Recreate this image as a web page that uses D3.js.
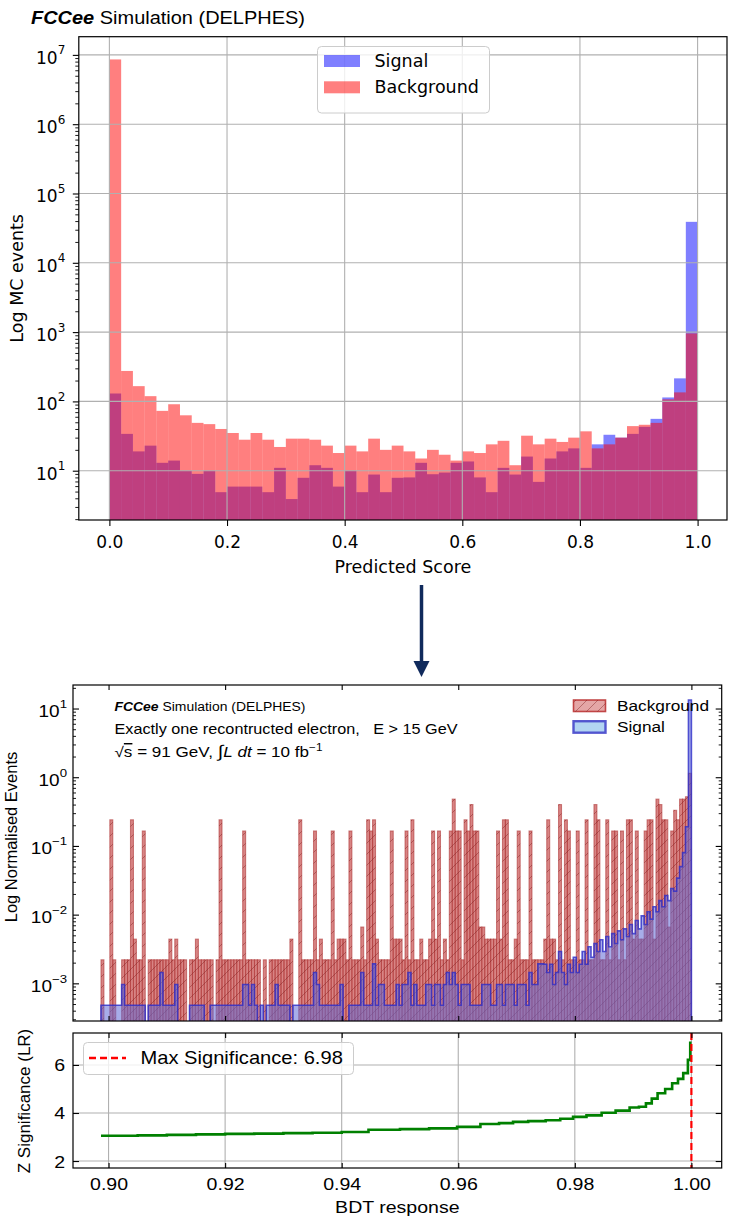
<!DOCTYPE html>
<html><head><meta charset="utf-8">
<script src="https://cdn.jsdelivr.net/npm/d3@7"></script>
<style>body{margin:0;background:#fff}svg{display:block}</style>
</head><body>
<svg id="c" width="732" height="1218"></svg>
<script>
// ================= DATA =================
// Top chart: 50 bins of predicted score, 0..1
const topBinStart = 0, topBinWidth = 0.02;
const topSignal = [130,34,19,23,13,14,10,9,10,4.9, 5.9,5.9,5.9,4.9,11,3.9,7.9,12,11,5.9,
  10,4.9,8.8,4.9,7.9,8,13,8.9,9.4,13, 13.6,8,4.9,11,8.8,16,6.9,15,19,21,
  11,24,33,30,34,43,56,114,215,39000];
const topBackground = [8.6e6,275,166,119,73,91,63,49,47,40, 35,28,35,28,22,29,29,28,23,18,
  23,19,29,20,23,19,15,20,17,14, 19,18,24,27,12,32,24,29,26,30,
  37,21,24,30,44,46,49,107,135,957];
const topXTicks = [0,0.2,0.4,0.6,0.8,1.0];
const topYTicks = [1e1,1e2,1e3,1e4,1e5,1e6,1e7];

// Bottom chart: 200 bins of BDT response between 0.8987 and 1.0
const bdtLow = 0.8987, bdtHigh = 1.0, bdtBins = 200;
const bdtBackground = [
 0.0022,0,0,0.24,0.0022,0,0,0.0022,0.0022,0.0022, 0.24,0.0044,0.0022,0.0022,0.165,0,0.0022,0.0022,0.0022,0.0022,
 0.0022,0.0022,0.0022,0.0044,0.0022,0.0044,0.0022,0.0022,0.0022,0, 0.0022,0.0022,0.0044,0.0022,0.0022,0.0022,0.0022,0.0022,0,0.0022,
 0.24,0.0022,0.0022,0.0022,0.0022,0.0022,0.0022,0.0022,0.165,0.0022, 0.0022,0.0022,0.0022,0.0022,0,0.0022,0,0.0022,0.0022,0.0022,
 0.0022,0.0022,0.0022,0.0022,0.0044,0,0,0.24,0.0022,0.0022, 0.0022,0.0022,0.165,0.0022,0.0044,0.0022,0.0022,0.0022,0.165,0.0022,
 0.0044,0.0044,0.0044,0.0022,0.165,0.0022,0.0022,0.0022,0.0066,0.0022, 0.24,0.165,0.24,0.0044,0.0022,0.0022,0.0022,0.0022,0.165,0.0044,
 0.0044,0.0044,0.0022,0.165,0.0022,0.24,0.0022,0.0022,0.0044,0.0022, 0.0022,0.0044,0.165,0.0044,0.165,0.0022,0.0044,0.0022,0.165,0.48,
 0.165,0.165,0.0022,0.24,0.165,0.40,0.165,0.165,0.0066,0.0066, 0.0044,0.0044,0.0044,0.0044,0.165,0.0044,0.24,0.24,0.0022,0.0022,
 0.0044,0.165,0.0022,0.0022,0.0022,0.165,0.0022,0.0022,0.0022,0.0022, 0.0044,0.24,0.0044,0.0044,0.0022,0.40,0.0022,0.24,0.165,0.0022,
 0.0022,0.165,0.0022,0.0022,0.24,0.0022,0.0022,0.40,0.24,0.0022, 0.0022,0.24,0.0022,0.165,0.165,0.0022,0.165,0.0022,0.24,0.24,
 0.0044,0.165,0.0044,0.0044,0.165,0.24,0.24,0.0044,0.48,0.40, 0.24,0.24,0.0066,0.165,0.33,0.24,0.48,0.48,0.52,1.14];
const bdtSignal = [
 0.00048,0.00048,0.00048,0.00048,0.00048,0.00048,0.00048,0.00096,0.00048,0.00048, 0.00048,0.00048,0.00048,0.00048,0.00048,0,0.00048,0.00048,0.00048,0.00048,
 0.00144,0.00048,0.00048,0.00048,0.00048,0.00096,0,0,0,0, 0.00048,0.00048,0.00048,0.00048,0.00048,0,0,0.00048,0.00048,0.00048,
 0.00048,0.00048,0.00048,0.00048,0.00048,0.00048,0.00048,0.00048,0.00096,0.00096, 0.00048,0.00096,0.00048,0,0.00048,0,0.00048,0.00048,0.00048,0.00096,
 0.00048,0.00048,0.00048,0.00048,0,0.00048,0.00048,0.00048,0.00048,0.00048, 0.00048,0.00048,0.00144,0.00096,0.00048,0.00048,0.00048,0.00048,0.00048,0.00048,
 0.00048,0.00096,0,0,0.00048,0.00048,0.00048,0.00048,0.00144,0.00048, 0.00048,0.00048,0.00192,0.00048,0.00096,0.00096,0.00048,0.00048,0.00048,0.00048,
 0.00096,0.00048,0.00096,0.00096,0.00144,0.00048,0.00096,0.00048,0.00048,0.00048, 0.00096,0.00096,0.00048,0.00096,0.00096,0.00048,0.00096,0.00144,0.00096,0.00144,
 0.00096,0.00048,0.00096,0.00096,0.00096,0.00048,0.00048,0.00048,0.00048,0.00096, 0.00096,0.00096,0.00048,0.00048,0.00096,0.00096,0.00048,0.00096,0.00096,0.00096,
 0.00048,0.00096,0.00096,0.00096,0.00048,0.00144,0.00096,0.00096,0.00192,0.00192, 0.0019,0.00144,0.0019,0.00096,0.00144,0.0029,0.00144,0.00096,0.0019,0.00144,
 0.0024,0.00144,0.0019,0.0029,0.0019,0.0034,0.0024,0.0038,0.0029,0.0043, 0.0029,0.0048,0.0034,0.0053,0.0038,0.0058,0.0043,0.0062,0.0048,0.0072,
 0.0053,0.0082,0.0062,0.0096,0.0072,0.0110,0.0086,0.0130,0.0110,0.0160, 0.0130,0.0190,0.0160,0.0240,0.0220,0.0340,0.050,0.080,0.19,13.3];
const bdtXTicks = [0.90,0.92,0.94,0.96,0.98,1.00];
const bdtYTicks = [1e-3,1e-2,1e-1,1e0,1e1];

// Significance scan
const zThreshold = [0.8987,0.9050,0.9100,0.9150,0.9200,0.9250,0.9300,0.9350,0.9400,0.9446,0.9500,0.9550,
  0.9598,0.9638,0.9670,0.9694,0.9720,0.9750,0.9775,0.9797,0.9820,0.9846,0.9870,0.9894,0.9910,0.9922,
  0.9932,0.9942,0.9955,0.9967,0.9977,0.9986,0.9994,0.9998];
const zValue = [3.05,3.07,3.09,3.11,3.13,3.14,3.16,3.18,3.21,3.30,3.33,3.36,
  3.42,3.54,3.58,3.63,3.66,3.70,3.76,3.84,3.90,4.01,4.10,4.23,4.26,4.40,
  4.60,4.82,5.00,5.24,5.42,5.66,6.21,6.98];
const zMaxCut = 1.0, zMax = 6.98;
const zYTicks = [2,4,6];

// ================= DRAW =================
const svg = d3.select("#c");
svg.append("rect").attr("width",732).attr("height",1218).attr("fill","#fff");
const defs = svg.append("defs");
const DV = "'DejaVu Sans', sans-serif";
const LS = "'Liberation Sans', Arial, sans-serif";
const SX = 1.15; // horizontal stretch of lower figure text

// ---------- TOP CHART ----------
const T = {l:78.8, r:727, t:36.7, b:520};
const tx = d3.scaleLinear().domain([-0.052,1.05]).range([T.l,T.r]);
const ty = d3.scaleLog().domain([1.944,1.83e7]).range([T.b,T.t]);
defs.append("clipPath").attr("id","clipTop").append("rect")
  .attr("x",T.l).attr("y",T.t).attr("width",T.r-T.l).attr("height",T.b-T.t);

const topBars = svg.append("g").attr("clip-path","url(#clipTop)");
function topHist(vals,color){
  topBars.append("g").selectAll("rect").data(vals).join("rect")
    .attr("x",(d,i)=>tx(topBinStart+i*topBinWidth))
    .attr("width",(d,i)=>tx(topBinStart+(i+1)*topBinWidth)-tx(topBinStart+i*topBinWidth))
    .attr("y",d=>ty(d)).attr("height",d=>T.b-ty(d)+2)
    .attr("fill",color).attr("fill-opacity",0.5);
}
topHist(topSignal,"#0000ff");
topHist(topBackground,"#ff0000");

const tgrid = svg.append("g").attr("stroke","#b0b0b0").attr("stroke-width",1.1);
tgrid.selectAll("line.v").data(topXTicks).join("line")
  .attr("x1",d=>tx(d)).attr("x2",d=>tx(d)).attr("y1",T.t).attr("y2",T.b);
tgrid.selectAll("line.h").data(topYTicks).join("line")
  .attr("x1",T.l).attr("x2",T.r).attr("y1",d=>ty(d)).attr("y2",d=>ty(d));

const txAxis = svg.append("g").attr("transform",`translate(0,${T.b})`)
  .call(d3.axisBottom(tx).tickValues(topXTicks).tickFormat(d3.format(".1f")).tickSize(6).tickPadding(9.5));
txAxis.select(".domain").remove();
txAxis.selectAll("text").attr("font-family",DV).attr("font-size",17).attr("fill","#000");
txAxis.selectAll("line").attr("stroke","#000").attr("stroke-width",1.1);

const minorTop = [];
for(let e=0;e<8;e++) for(let k=2;k<10;k++){const v=k*Math.pow(10,e); if(v>1.944&&v<1.83e7) minorTop.push(v);}
const tyMinor = svg.append("g").attr("transform",`translate(${T.l},0)`)
  .call(d3.axisLeft(ty).tickValues(minorTop).tickFormat("").tickSize(3.5));
tyMinor.select(".domain").remove();
tyMinor.selectAll("line").attr("stroke","#000").attr("stroke-width",0.9);
const tyAxis = svg.append("g").attr("transform",`translate(${T.l},0)`)
  .call(d3.axisLeft(ty).tickValues(topYTicks).tickSize(6).tickPadding(7.5));
tyAxis.select(".domain").remove();
tyAxis.selectAll("line").attr("stroke","#000").attr("stroke-width",1.1);
tyAxis.selectAll("text").each(function(d){
  const t=d3.select(this).text(null).attr("font-family",DV).attr("font-size",17).attr("fill","#000").attr("dy","8.5px");
  t.append("tspan").text("10");
  t.append("tspan").attr("font-size",12).attr("dy",-9.5).text(Math.round(Math.log10(d)));
});

svg.append("rect").attr("x",T.l).attr("y",T.t).attr("width",T.r-T.l).attr("height",T.b-T.t)
  .attr("fill","none").attr("stroke","#000").attr("stroke-width",1.2);

svg.append("text").attr("x",(T.l+T.r)/2).attr("y",573).attr("text-anchor","middle")
  .attr("font-family",DV).attr("font-size",17.5).text("Predicted Score");
svg.append("text").attr("transform",`translate(23,${(T.t+T.b)/2}) rotate(-90)`).attr("text-anchor","middle")
  .attr("font-family",DV).attr("font-size",17.5).text("Log MC events");

const ttl = svg.append("text").attr("x",31).attr("y",23.5).attr("font-family",LS).attr("font-size",17.5)
  .attr("textLength",274).attr("lengthAdjust","spacingAndGlyphs");
ttl.append("tspan").attr("font-weight","bold").attr("font-style","italic").text("FCCee");
ttl.append("tspan").text(" Simulation (DELPHES)");

const tl = svg.append("g");
tl.append("rect").attr("x",317.5).attr("y",46.5).attr("width",172).attr("height",66.5).attr("rx",4)
  .attr("fill","#fff").attr("fill-opacity",0.8).attr("stroke","#cccccc").attr("stroke-width",1);
[["Signal","#0000ff",55],["Background","#ff0000",81.3]].forEach(([lab,col,y])=>{
  tl.append("rect").attr("x",324).attr("y",y).attr("width",36).attr("height",12).attr("fill",col).attr("fill-opacity",0.5);
  tl.append("text").attr("x",374.5).attr("y",y+12).attr("font-family",DV).attr("font-size",17.5).text(lab);
});

// ---------- ARROW ----------
svg.append("line").attr("x1",421.5).attr("x2",421.5).attr("y1",585).attr("y2",664)
  .attr("stroke","#102a5c").attr("stroke-width",3.5);
svg.append("path").attr("d","M413.5,661 L429.5,661 L421.5,677 Z").attr("fill","#102a5c");

// ---------- BOTTOM HISTOGRAM ----------
const B = {l:73, r:721.7, t:685, b:1021};
const Z = {t:1033, b:1168};
const bx = d3.scaleLinear().domain([0.8939,1.0052]).range([B.l,B.r]);
const by = d3.scaleLog().domain([2.83e-4,22]).range([B.b,B.t]);
const zy = d3.scaleLinear().domain([1.71,7.33]).range([Z.b,Z.t]);
defs.append("clipPath").attr("id","clipB").append("rect")
  .attr("x",B.l).attr("y",B.t).attr("width",B.r-B.l).attr("height",B.b-B.t);
const hatch = defs.append("pattern").attr("id","hatchBg").attr("patternUnits","userSpaceOnUse")
  .attr("width",11).attr("height",11);
hatch.append("path").attr("d","M-2,2 L2,-2 M0,11 L11,0 M9,13 L13,9")
  .attr("stroke","rgba(120,20,20,0.45)").attr("stroke-width",0.9);

const binW = (bdtHigh-bdtLow)/bdtBins;
const edge = i => bdtLow + i*binW;
const bgData = bdtBackground.map((v,i)=>({i,v})).filter(d=>d.v>0);
const hg = svg.append("g").attr("clip-path","url(#clipB)");
hg.append("g").selectAll("rect").data(bgData).join("rect")
  .attr("x",d=>bx(edge(d.i))).attr("width",d=>bx(edge(d.i+1))-bx(edge(d.i)))
  .attr("y",d=>by(d.v)).attr("height",d=>B.b-by(d.v)+3)
  .attr("fill","rgba(200,80,80,0.7)").attr("stroke","rgba(175,55,55,0.6)").attr("stroke-width",1.1);
hg.append("g").selectAll("rect").data(bgData).join("rect")
  .attr("x",d=>bx(edge(d.i))).attr("width",d=>bx(edge(d.i+1))-bx(edge(d.i)))
  .attr("y",d=>by(d.v)).attr("height",d=>B.b-by(d.v)+3)
  .attr("fill","url(#hatchBg)");

const sigPts = [{x:edge(0),v:0}].concat(bdtSignal.map((v,i)=>({x:edge(i),v})), [{x:edge(bdtBins),v:0}]);
const yv = d => d.v>0 ? by(d.v) : B.b+12;
hg.append("path").datum(sigPts)
  .attr("d",d3.area().x(d=>bx(d.x)).y0(B.b+12).y1(yv).curve(d3.curveStepAfter))
  .attr("fill","rgba(95,105,215,0.55)");
hg.append("path").datum(sigPts)
  .attr("d",d3.line().x(d=>bx(d.x)).y(yv).curve(d3.curveStepAfter))
  .attr("fill","none").attr("stroke","rgba(45,45,200,0.8)").attr("stroke-width",1.6);

function styleTicks(g,w){ g.select(".domain").remove(); g.selectAll("line").attr("stroke","#000").attr("stroke-width",w); }
const minorB = [];
for(let e=-4;e<2;e++) for(let k=2;k<10;k++){const v=k*Math.pow(10,e); if(v>2.83e-4&&v<22) minorB.push(v);}
[[B.l,d3.axisLeft],[B.r,d3.axisRight]].forEach(([x,ax])=>{
  styleTicks(svg.append("g").attr("transform",`translate(${x},0)`).call(ax(by).tickValues(minorB).tickFormat("").tickSize(-3)),0.9);
});
styleTicks(svg.append("g").attr("transform",`translate(${B.r},0)`).call(d3.axisRight(by).tickValues(bdtYTicks).tickFormat("").tickSize(-6)),1.1);
const byAxis = svg.append("g").attr("transform",`translate(${B.l},0)`)
  .call(d3.axisLeft(by).tickValues(bdtYTicks).tickSize(-6).tickPadding(6));
styleTicks(byAxis,1.1);
byAxis.selectAll("text").each(function(d){
  const t=d3.select(this).text(null).attr("x",null).attr("dy",null)
    .attr("transform",`translate(-6,8) scale(${SX},1)`).attr("font-family",LS).attr("font-size",16.5).attr("fill","#000");
  t.append("tspan").text("10");
  const e = Math.round(Math.log10(d));
  t.append("tspan").attr("font-size",11.5).attr("dy",-9).text(e<0? "\u2212"+(-e) : e);
});
styleTicks(svg.append("g").attr("transform",`translate(0,${B.t})`).call(d3.axisTop(bx).tickValues(bdtXTicks).tickFormat("").tickSize(-5)),1.1);
styleTicks(svg.append("g").attr("transform",`translate(0,${B.b})`).call(d3.axisBottom(bx).tickValues(bdtXTicks).tickFormat("").tickSize(-5)),1.1);
svg.append("rect").attr("x",B.l).attr("y",B.t).attr("width",B.r-B.l).attr("height",B.b-B.t)
  .attr("fill","none").attr("stroke","#000").attr("stroke-width",1.2);

const ann = svg.append("g").attr("font-family",LS).attr("fill","#000");
const a1 = ann.append("text").attr("x",114.5).attr("y",710.5).attr("font-size",12.5)
  .attr("textLength",191).attr("lengthAdjust","spacingAndGlyphs");
a1.append("tspan").attr("font-weight","bold").attr("font-style","italic").text("FCCee");
a1.append("tspan").text(" Simulation (DELPHES)");
ann.append("text").attr("x",114.5).attr("y",733.5).attr("font-size",14.5).style("white-space","pre")
  .attr("textLength",343).attr("lengthAdjust","spacingAndGlyphs")
  .text("Exactly one recontructed electron,   E > 15 GeV");
const a3 = ann.append("text").attr("x",114.5).attr("y",757).attr("font-size",14.5)
  .attr("textLength",208).attr("lengthAdjust","spacingAndGlyphs");
a3.append("tspan").text("\u221A");
a3.append("tspan").style("text-decoration","overline").text("s");
a3.append("tspan").text(" = 91 GeV, ");
a3.append("tspan").attr("font-size",17).text("\u222B");
a3.append("tspan").attr("font-style","italic").text("L");
a3.append("tspan").text(" ");
a3.append("tspan").attr("font-style","italic").text("dt");
a3.append("tspan").text(" = 10 fb");
a3.append("tspan").attr("font-size",10).attr("dy",-6).text("\u22121");

const bl = svg.append("g");
bl.append("rect").attr("x",573.5).attr("y",700).attr("width",32).attr("height",11.5)
  .attr("fill","rgba(205,92,92,0.55)").attr("stroke","rgba(185,45,45,0.85)").attr("stroke-width",1.6);
bl.append("rect").attr("x",573.5).attr("y",700).attr("width",32).attr("height",11.5).attr("fill","url(#hatchBg)");
bl.append("rect").attr("x",573.5).attr("y",721.2).attr("width",32).attr("height",11.5)
  .attr("fill","rgba(165,205,240,0.85)").attr("stroke","rgba(60,60,200,0.85)").attr("stroke-width",2.4);
[["Background",711],["Signal",732]].forEach(([lab,y])=>{
  bl.append("text").attr("transform",`translate(617,${y}) scale(${SX},1)`).attr("font-family",LS).attr("font-size",15).text(lab);
});
svg.append("text").attr("transform",`translate(17,837) rotate(-90)`).attr("text-anchor","middle")
  .attr("font-family",LS).attr("font-size",16.5).text("Log Normalised Events");

// ---------- SIGNIFICANCE PANEL ----------
const zg = svg.append("g").attr("stroke","#b0b0b0").attr("stroke-width",1.1);
zg.selectAll("line.v").data(bdtXTicks).join("line")
  .attr("x1",d=>bx(d)).attr("x2",d=>bx(d)).attr("y1",Z.t).attr("y2",Z.b);
zg.selectAll("line.h").data(zYTicks).join("line")
  .attr("x1",B.l).attr("x2",B.r).attr("y1",d=>zy(d)).attr("y2",d=>zy(d));

const zPts = zThreshold.map((x,i)=>({x,z:zValue[i]}));
svg.append("path").datum(zPts)
  .attr("d",d3.line().x(d=>bx(d.x)).y(d=>zy(d.z)).curve(d3.curveStepAfter))
  .attr("fill","none").attr("stroke","#008000").attr("stroke-width",2.6);
svg.append("line").attr("x1",bx(zMaxCut)).attr("x2",bx(zMaxCut)).attr("y1",Z.t).attr("y2",Z.b)
  .attr("stroke","#ff0000").attr("stroke-width",2.2).attr("stroke-dasharray","7,4");

styleTicks(svg.append("g").attr("transform",`translate(${B.r},0)`).call(d3.axisRight(zy).tickValues(zYTicks).tickFormat("").tickSize(-6)),1.1);
const zyAxis = svg.append("g").attr("transform",`translate(${B.l},0)`)
  .call(d3.axisLeft(zy).tickValues(zYTicks).tickFormat(d3.format("d")).tickSize(-6).tickPadding(8));
styleTicks(zyAxis,1.1);
zyAxis.selectAll("text").attr("x",null).attr("dy",null)
  .attr("transform",`translate(-8,6) scale(${SX},1)`).attr("font-family",LS).attr("font-size",17).attr("fill","#000");
styleTicks(svg.append("g").attr("transform",`translate(0,${Z.t})`).call(d3.axisTop(bx).tickValues(bdtXTicks).tickFormat("").tickSize(-5)),1.1);
const zxAxis = svg.append("g").attr("transform",`translate(0,${Z.b})`)
  .call(d3.axisBottom(bx).tickValues(bdtXTicks).tickFormat(d3.format(".2f")).tickSize(-5).tickPadding(10));
styleTicks(zxAxis,1.1);
zxAxis.selectAll("text").attr("y",null).attr("dy",null)
  .attr("transform",`translate(0,22) scale(${SX},1)`).attr("font-family",LS).attr("font-size",17).attr("fill","#000");
svg.append("rect").attr("x",B.l).attr("y",Z.t).attr("width",B.r-B.l).attr("height",Z.b-Z.t)
  .attr("fill","none").attr("stroke","#000").attr("stroke-width",1.2);

const zl = svg.append("g");
zl.append("rect").attr("x",83.5).attr("y",1042.5).attr("width",270).attr("height",32).attr("rx",4)
  .attr("fill","#fff").attr("fill-opacity",0.8).attr("stroke","#cccccc");
zl.append("line").attr("x1",89).attr("x2",126).attr("y1",1058).attr("y2",1058)
  .attr("stroke","#ff0000").attr("stroke-width",2.5).attr("stroke-dasharray","7,4");
zl.append("text").attr("transform",`translate(140.5,1064) scale(${SX},1)`).attr("font-family",LS).attr("font-size",17.5)
  .text("Max Significance: " + zMax.toFixed(2));

svg.append("text").attr("transform",`translate(${(B.l+B.r)/2},1213) scale(${SX},1)`).attr("text-anchor","middle")
  .attr("font-family",LS).attr("font-size",17).text("BDT response");
svg.append("text").attr("transform",`translate(30,1101) rotate(-90)`).attr("text-anchor","middle")
  .attr("font-family",LS).attr("font-size",17).text("Z Significance (LR)");
</script>
</body></html>
